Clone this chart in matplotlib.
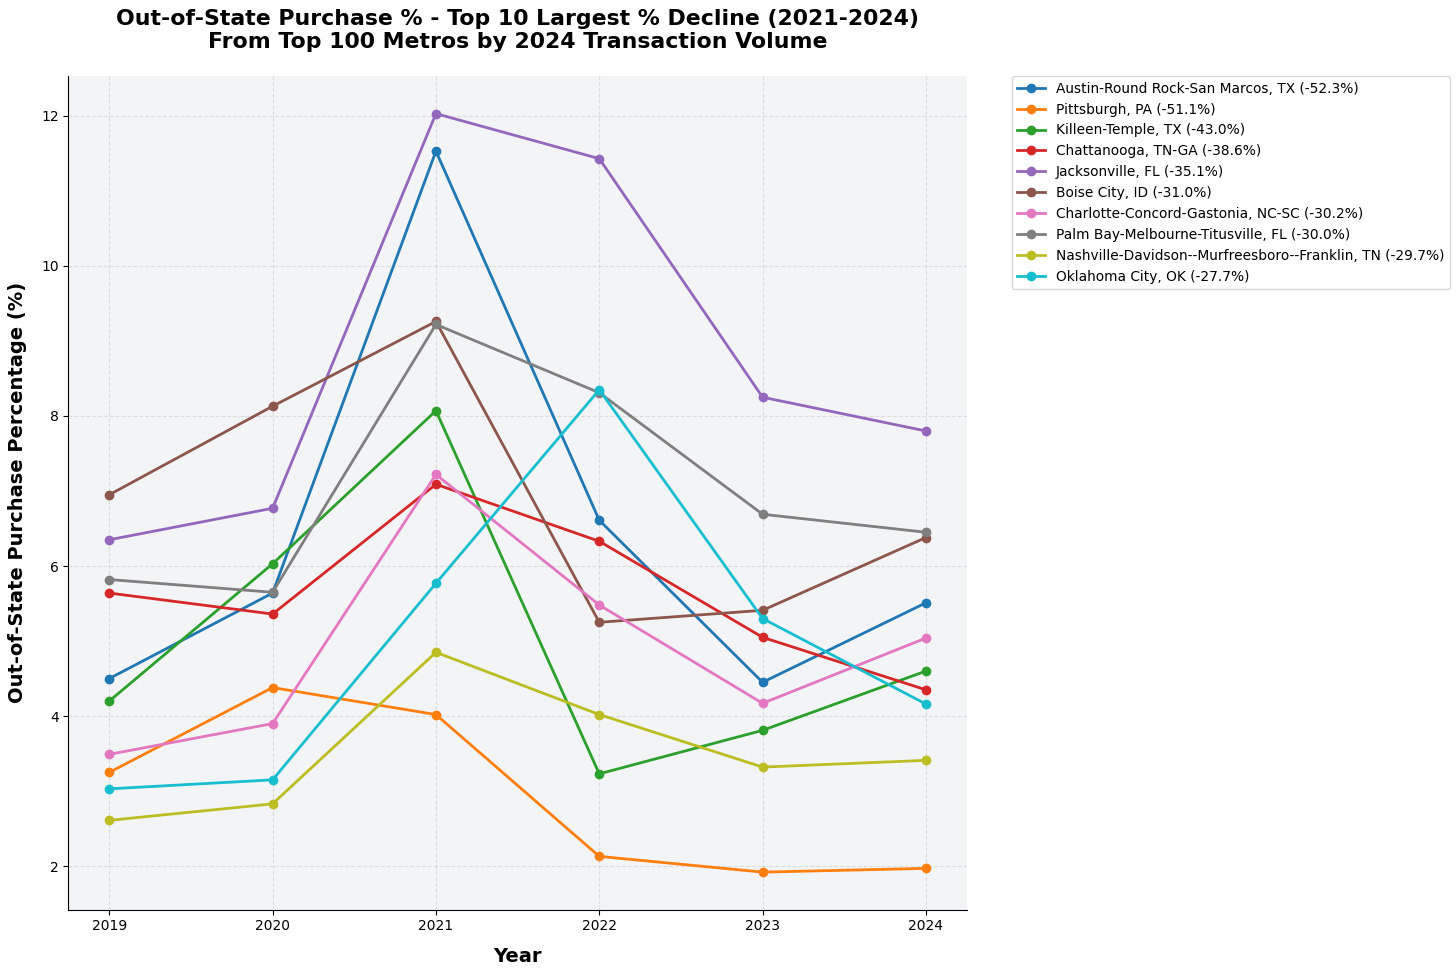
import matplotlib
matplotlib.use('Agg')
import matplotlib.pyplot as plt

years = [2019, 2020, 2021, 2022, 2023, 2024]

metros = [
    'Austin-Round Rock-San Marcos, TX (-52.3%)',
    'Pittsburgh, PA (-51.1%)',
    'Killeen-Temple, TX (-43.0%)',
    'Chattanooga, TN-GA (-38.6%)',
    'Jacksonville, FL (-35.1%)',
    'Boise City, ID (-31.0%)',
    'Charlotte-Concord-Gastonia, NC-SC (-30.2%)',
    'Palm Bay-Melbourne-Titusville, FL (-30.0%)',
    'Nashville-Davidson--Murfreesboro--Franklin, TN (-29.7%)',
    'Oklahoma City, OK (-27.7%)',
]

austin = [4.50, 5.64, 11.53, 6.61, 4.45, 5.51]
pittsburgh = [3.25, 4.38, 4.02, 2.13, 1.92, 1.97]
killeen = [4.20, 6.03, 8.07, 3.23, 3.81, 4.60]
chattanooga = [5.64, 5.36, 7.09, 6.33, 5.05, 4.35]
jacksonville = [6.35, 6.77, 12.03, 11.43, 8.25, 7.80]
boise = [6.95, 8.13, 9.26, 5.25, 5.41, 6.38]
charlotte = [3.49, 3.90, 7.22, 5.48, 4.17, 5.04]
palm_bay = [5.82, 5.65, 9.22, 8.31, 6.69, 6.45]
nashville = [2.61, 2.83, 4.85, 4.02, 3.32, 3.41]
oklahoma = [3.03, 3.15, 5.77, 8.35, 5.30, 4.16]

series = [austin, pittsburgh, killeen, chattanooga, jacksonville,
          boise, charlotte, palm_bay, nashville, oklahoma]

fig, ax = plt.subplots(figsize=(14.56, 9.76), dpi=100)
fig.subplots_adjust(left=0.047, right=0.664, top=0.922, bottom=0.068)
ax.set_facecolor('#f3f4f6')

for name, vals in zip(metros, series):
    ax.plot(years, vals, marker='o', linewidth=2, markersize=6, label=name)

ax.set_xticks(years)
ax.set_ylim(1.42, 12.53)
ax.set_xlim(2018.75, 2024.25)
ax.grid(True, linestyle='--', alpha=0.35)
ax.spines['top'].set_visible(False)
ax.spines['right'].set_visible(False)

ax.set_xlabel('Year', fontsize=14, fontweight='bold', labelpad=10)
ax.set_ylabel('Out-of-State Purchase Percentage (%)', fontsize=14, fontweight='bold', labelpad=10)
ax.set_title('Out-of-State Purchase % - Top 10 Largest % Decline (2021-2024)\n'
             'From Top 100 Metros by 2024 Transaction Volume',
             fontsize=15.8, fontweight='bold', pad=20)

ax.legend(bbox_to_anchor=(1.05, 1), loc='upper left', fontsize=9.9, borderaxespad=0)

plt.savefig('out.png', dpi=100)
